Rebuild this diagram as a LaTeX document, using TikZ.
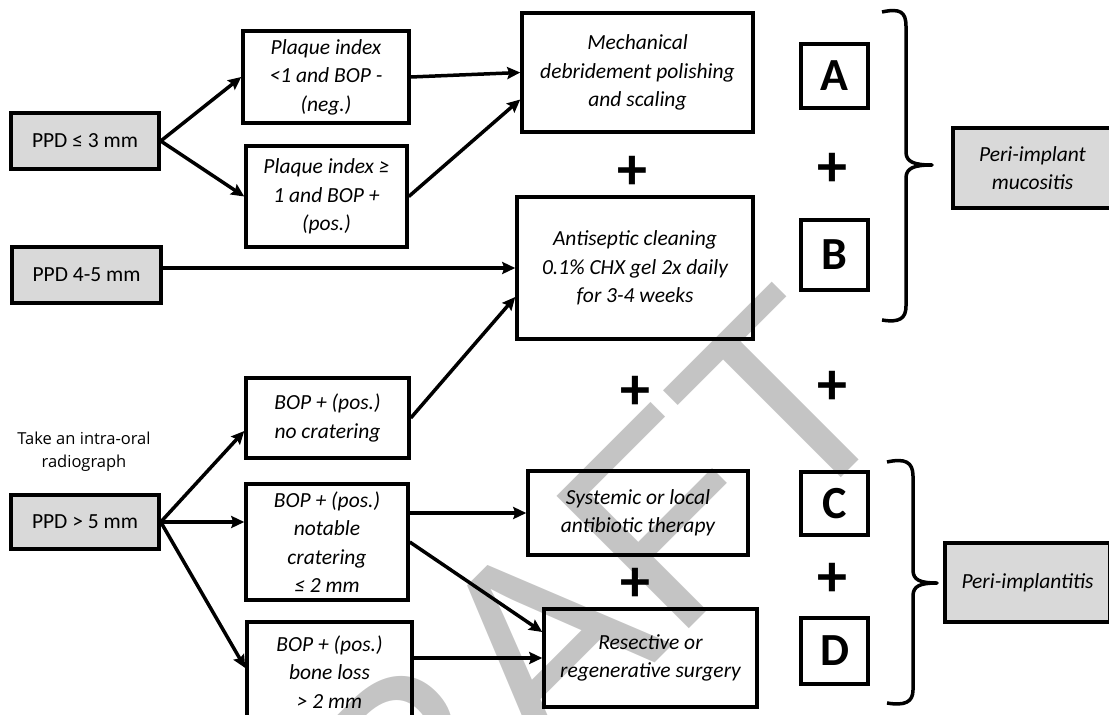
\documentclass[tikz,border=0pt]{standalone}
\usepackage{fontspec}
\setmainfont{Carlito}
\newfontfamily\notefont{Open Sans}
\newfontfamily\markfont{Liberation Sans}
\usetikzlibrary{arrows.meta}

\begin{document}
\begin{tikzpicture}[
    x=1pt, y=-1pt,
    box/.style={draw, line width=3.5pt, align=center, inner sep=0pt, font=\itshape\fontsize{21.5}{28.5}\selectfont},
    ppd/.style={box, fill=gray!30, font=\fontsize{21.5}{28.5}\selectfont},
    diag/.style={ppd, font=\itshape\fontsize{21.5}{28.5}\selectfont},
    note/.style={align=center, inner sep=0pt, font=\notefont\fontsize{16.5}{23}\selectfont},
    letter/.style={draw, line width=3.5pt, inner sep=0pt, minimum width=67pt, font=\bfseries\fontsize{46}{46}\selectfont},
    plus/.style={inner sep=0pt, font=\bfseries\fontsize{60}{60}\selectfont},
    arr/.style={-{Stealth[length=13pt, width=12pt, inset=2pt]}, line width=3.5pt},
    curly/.style={line width=3.5pt, line join=round}
]
    \useasboundingbox (0,0) rectangle (1109,715);

    % Marca de agua
    \node[rotate=45, text=black!23, inner sep=0pt, font=\markfont\fontsize{272}{272}\selectfont] (mark) at (522,664) {DRAFT};

    % Profundidad de sondaje
    \node[ppd, minimum width=148pt, minimum height=56pt] (ppdA) at (85,141) {PPD ≤ 3 mm};
    \node[ppd, minimum width=149pt, minimum height=56pt] (ppdB) at (86.5,275) {PPD 4-5 mm};
    \node[ppd, minimum width=148pt, minimum height=54pt] (ppdC) at (85,522) {PPD > 5 mm};
    \node[note] (xray) at (84,452) {Take an intra-oral\\radiograph};

    % Criterios clinicos
    \node[box, minimum width=166pt, minimum height=92pt] (plaqueLow) at (326,77) {Plaque index\\<1 and BOP -\\(neg.)};
    \node[box, minimum width=161pt, minimum height=101pt] (plaqueHigh) at (326.5,196.5) {Plaque index ≥\\1 and BOP +\\(pos.)};
    \node[box, minimum width=163pt, minimum height=80pt] (bopNone) at (327.5,418) {BOP + (pos.)\\no cratering};
    \node[box, minimum width=162pt, minimum height=116pt] (bopCrater) at (327,542) {BOP + (pos.)\\notable\\cratering\\≤ 2 mm};
    \node[box, minimum width=165pt, minimum height=100pt] (bopLoss) at (329.5,672) {BOP + (pos.)\\bone loss\\> 2 mm};

    % Tratamientos
    \node[box, minimum width=231pt, minimum height=119pt] (mech) at (637.5,72.5) {Mechanical\\debridement polishing\\and scaling};
    \node[box, minimum width=236pt, minimum height=142pt] (antisep) at (635,268) {Antiseptic cleaning\\0.1\% CHX gel 2x daily\\for 3-4 weeks};
    \node[box, minimum width=220pt, minimum height=84pt] (antibio) at (638,513) {Systemic or local\\antibiotic therapy};
    \node[box, minimum width=213pt, minimum height=98pt] (surgery) at (650.5,658) {Resective or\\regenerative surgery};

    % Letras A-D
    \node[letter, minimum height=64pt] (A) at (834.5,76) {A};
    \node[letter, minimum height=70pt] (B) at (834.5,255) {B};
    \node[letter, minimum height=63pt] (C) at (834.5,503.5) {C};
    \node[letter, minimum height=66pt] (D) at (834.5,651) {D};

    % Signos +
    \node[plus] (plus1) at (632,173) {+};
    \node[plus] (plus2) at (832,170) {+};
    \node[plus] (plus3) at (635,393) {+};
    \node[plus] (plus4) at (832,388) {+};
    \node[plus] (plus5) at (635,585) {+};
    \node[plus] (plus6) at (832,580) {+};

    % Diagnosticos y llaves
    \node[diag, minimum width=159pt, minimum height=80pt] (mucos) at (1032.5,168) {Peri-implant\\mucositis};
    \node[diag, minimum width=165pt, minimum height=79pt] (implant) at (1027.5,582.5) {Peri-implantitis};
    \draw[curly] (882,12) .. controls (900,8) and (906,12) .. (906,26) -- (906,152)
        .. controls (906,162) and (914,165) .. (932,165)
        .. controls (914,165) and (906,168) .. (906,178) -- (906,306)
        .. controls (906,318) and (900,323) .. (882,320);
    \draw[curly] (887,462) .. controls (905,458) and (913,462) .. (913,476) -- (913,570)
        .. controls (913,580) and (920,583) .. (937,583)
        .. controls (920,583) and (913,586) .. (913,596) -- (913,690)
        .. controls (913,702) and (905,706) .. (887,703);

    % Flechas
    \draw[arr] (ppdA.east) -- (plaqueLow.west);
    \draw[arr] (ppdA.east) -- (plaqueHigh.west);
    \draw[arr] (plaqueLow.east) -- (mech.west);
    \draw[arr] (plaqueHigh.east) -- ([yshift=-27pt]mech.west);
    \draw[arr] (ppdB.east |- antisep.west) -- (antisep.west);
    \draw[arr] (bopNone.east) -- ([yshift=-29pt]antisep.west);
    \draw[arr] (ppdC.east) -- ([yshift=-13pt]bopNone.west);
    \draw[arr] (ppdC.east) -- (bopCrater.west |- ppdC.east);
    \draw[arr] (ppdC.east) -- ([yshift=4pt]bopLoss.west);
    \draw[arr] (bopCrater.east |- antibio.west) -- (antibio.west);
    \draw[arr] (bopCrater.east) -- ([yshift=26pt]surgery.west);
    \draw[arr] (bopLoss.east |- surgery.west) -- (surgery.west);
\end{tikzpicture}
\end{document}
